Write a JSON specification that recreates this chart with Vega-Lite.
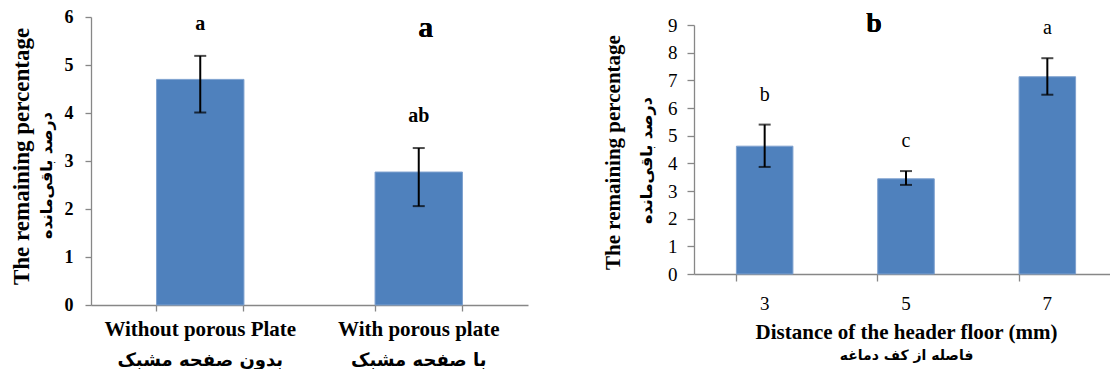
{
  "$schema": "https://vega.github.io/schema/vega-lite/v6.json",
  "autosize": {"type": "pad"},
  "padding": {"left": 9, "top": 8, "right": 0, "bottom": 0},
  "background": "white",
  "config": {
    "view": {"stroke": null},
    "font": "Liberation Serif",
    "axis": {"domainColor": "#878787", "tickColor": "#878787", "domainWidth": 1.3, "tickWidth": 1.3, "grid": false, "labelColor": "black", "titleColor": "black", "labelLimit": 400}
  },
  "datasets": {
    "plate": [
      {"plate": "Without porous Plate", "mean": 4.7, "lower": 4.01, "upper": 5.19, "group": "a"},
      {"plate": "With porous plate", "mean": 2.77, "lower": 2.06, "upper": 3.27, "group": "ab"}
    ],
    "distance": [
      {"distance": "3", "mean": 4.62, "lower": 3.87, "upper": 5.4, "group": "b"},
      {"distance": "5", "mean": 3.44, "lower": 3.22, "upper": 3.72, "group": "c"},
      {"distance": "7", "mean": 7.13, "lower": 6.48, "upper": 7.8, "group": "a"}
    ]
  },
  "hconcat": [
    {
      "width": 437,
      "height": 288,
      "data": {"name": "plate"},
      "resolve": {"axis": {"x": "independent", "y": "independent"}},
      "layer": [
        {
          "mark": {"type": "bar", "color": "#4F81BD", "stroke": "#7EA1CF", "strokeWidth": 1},
          "encoding": {
            "x": {"field": "plate", "type": "nominal", "sort": null,
                  "scale": {"paddingInner": 0.6, "paddingOuter": 0.3},
                  "axis": {"orient": "bottom", "labels": false, "title": null, "bandPosition": 0, "tickSize": 6}},
            "y": {"field": "mean", "type": "quantitative", "scale": {"domain": [0, 6]},
                  "axis": {"orient": "left", "values": [0, 1, 2, 3, 4, 5, 6], "tickSize": 6, "labelPadding": 12,
                           "labelFontSize": 18, "labelFontWeight": "bold", "labelFont": "Liberation Serif",
                           "title": "The remaining percentage", "titleFontSize": 23, "titleFontWeight": "bold",
                           "titleFont": "Liberation Serif", "titlePadding": 31, "titleY": 139}}
          }
        },
        {
          "mark": {"type": "rule", "color": "black", "strokeWidth": 2},
          "encoding": {
            "x": {"field": "plate", "type": "nominal", "sort": null,
                  "axis": {"orient": "bottom", "domain": false, "ticks": false, "title": null, "labelPadding": 13,
                           "labelFontSize": 21, "labelFontWeight": "bold", "labelFont": "Liberation Serif", "labelAngle": 0}},
            "y": {"field": "lower", "type": "quantitative", "scale": {"domain": [0, 6]},
                  "axis": {"orient": "left", "labels": false, "ticks": false, "domain": false,
                           "title": "درصد باقی‌مانده", "titleFont": "DejaVu Sans", "titleFontSize": 16,
                           "titleFontWeight": "bold", "titlePadding": 37, "titleY": 158}},
            "y2": {"field": "upper"}
          }
        },
        {
          "mark": {"type": "tick", "color": "black", "size": 12, "thickness": 2},
          "encoding": {
            "x": {"field": "plate", "type": "nominal", "sort": null,
                  "axis": {"orient": "bottom", "domain": false, "ticks": false, "title": null, "labelPadding": 46,
                           "labelExpr": "datum.value == 'Without porous Plate' ? 'بدون صفحه مشبک' : 'با صفحه مشبک'",
                           "labelFontSize": 18, "labelFontWeight": "bold", "labelFont": "DejaVu Sans", "labelAngle": 0}},
            "y": {"field": "lower", "type": "quantitative", "scale": {"domain": [0, 6]}, "axis": null}
          }
        },
        {
          "mark": {"type": "tick", "color": "black", "size": 12, "thickness": 2},
          "encoding": {
            "x": {"field": "plate", "type": "nominal", "sort": null,
                  "axis": {"orient": "bottom", "domain": false, "labels": false, "title": null, "bandPosition": 1, "tickSize": 6}},
            "y": {"field": "upper", "type": "quantitative", "scale": {"domain": [0, 6]}, "axis": null}
          }
        },
        {
          "mark": {"type": "text", "font": "Liberation Serif", "fontSize": 20, "fontWeight": "bold", "baseline": "alphabetic", "dy": -26, "color": "black"},
          "encoding": {
            "x": {"field": "plate", "type": "nominal", "sort": null, "axis": null},
            "y": {"field": "upper", "type": "quantitative", "scale": {"domain": [0, 6]}, "axis": null},
            "text": {"field": "group"}
          }
        },
        {
          "mark": {"type": "text", "font": "Liberation Serif", "fontSize": 30, "fontWeight": "bold", "baseline": "alphabetic", "dx": 7, "color": "black", "text": "a"},
          "encoding": {
            "x": {"datum": "With porous plate", "type": "nominal", "axis": null},
            "y": {"datum": 5.58, "type": "quantitative", "scale": {"domain": [0, 6]}, "axis": null}
          }
        }
      ]
    },
    {
      "vconcat": [
        {
          "width": 424,
          "height": 8,
          "data": {"values": []},
          "mark": "point",
          "encoding": {}
        },
        {
          "width": 424,
          "height": 249,
          "data": {"name": "distance"},
          "resolve": {"axis": {"x": "independent", "y": "independent"}},
          "layer": [
            {
              "mark": {"type": "bar", "color": "#4F81BD", "stroke": "#7EA1CF", "strokeWidth": 1},
              "encoding": {
                "x": {"field": "distance", "type": "nominal", "sort": null,
                      "scale": {"paddingInner": 0.6, "paddingOuter": 0.3},
                      "axis": {"orient": "bottom", "labels": false, "title": null, "bandPosition": 0, "tickSize": 7}},
                "y": {"field": "mean", "type": "quantitative", "scale": {"domain": [0, 9]},
                      "axis": {"orient": "left", "values": [0, 1, 2, 3, 4, 5, 6, 7, 8, 9], "tickSize": 7, "labelPadding": 10,
                               "labelFontSize": 19, "labelFont": "Liberation Serif",
                               "title": "The remaining percentage", "titleFontSize": 21, "titleFontWeight": "bold",
                               "titleFont": "Liberation Serif", "titlePadding": 44, "titleY": 127}}
              }
            },
            {
              "mark": {"type": "rule", "color": "black", "strokeWidth": 2},
              "encoding": {
                "x": {"field": "distance", "type": "nominal", "sort": null,
                      "axis": {"orient": "bottom", "domain": false, "ticks": false, "labelPadding": 20,
                               "labelFontSize": 19, "labelFont": "Liberation Serif", "labelAngle": 0,
                               "title": "Distance of the header floor (mm)", "titleFontSize": 21, "titleFontWeight": "bold",
                               "titleFont": "Liberation Serif", "titlePadding": 8}},
                "y": {"field": "lower", "type": "quantitative", "scale": {"domain": [0, 9]},
                      "axis": {"orient": "left", "labels": false, "ticks": false, "domain": false,
                               "title": "درصد باقی‌مانده", "titleFont": "DejaVu Sans", "titleFontSize": 16,
                               "titleFontWeight": "bold", "titlePadding": 40, "titleY": 135}},
                "y2": {"field": "upper"}
              }
            },
            {
              "mark": {"type": "tick", "color": "black", "size": 12, "thickness": 2},
              "encoding": {
                "x": {"field": "distance", "type": "nominal", "sort": null,
                      "axis": {"orient": "bottom", "domain": false, "ticks": false, "labels": false,
                               "title": "فاصله از کف دماغه", "titleFont": "DejaVu Sans", "titleFontSize": 14,
                               "titleFontWeight": "bold", "titlePadding": 74}},
                "y": {"field": "lower", "type": "quantitative", "scale": {"domain": [0, 9]}, "axis": null}
              }
            },
            {
              "mark": {"type": "tick", "color": "black", "size": 12, "thickness": 2},
              "encoding": {
                "x": {"field": "distance", "type": "nominal", "sort": null, "axis": null},
                "y": {"field": "upper", "type": "quantitative", "scale": {"domain": [0, 9]}, "axis": null}
              }
            },
            {
              "mark": {"type": "text", "font": "Liberation Serif", "fontSize": 20, "baseline": "alphabetic", "dy": -24, "color": "black"},
              "encoding": {
                "x": {"field": "distance", "type": "nominal", "sort": null, "axis": null},
                "y": {"field": "upper", "type": "quantitative", "scale": {"domain": [0, 9]}, "axis": null},
                "text": {"field": "group"}
              }
            },
            {
              "mark": {"type": "text", "font": "Liberation Serif", "fontSize": 28, "fontWeight": "bold", "baseline": "alphabetic", "dx": -32, "color": "black", "text": "b"},
              "encoding": {
                "x": {"datum": "5", "type": "nominal", "axis": null},
                "y": {"datum": 8.75, "type": "quantitative", "scale": {"domain": [0, 9]}, "axis": null}
              }
            }
          ]
        }
      ],
      "spacing": 0,
      "bounds": "flush"
    }
  ],
  "spacing": 166,
  "bounds": "flush"
}
